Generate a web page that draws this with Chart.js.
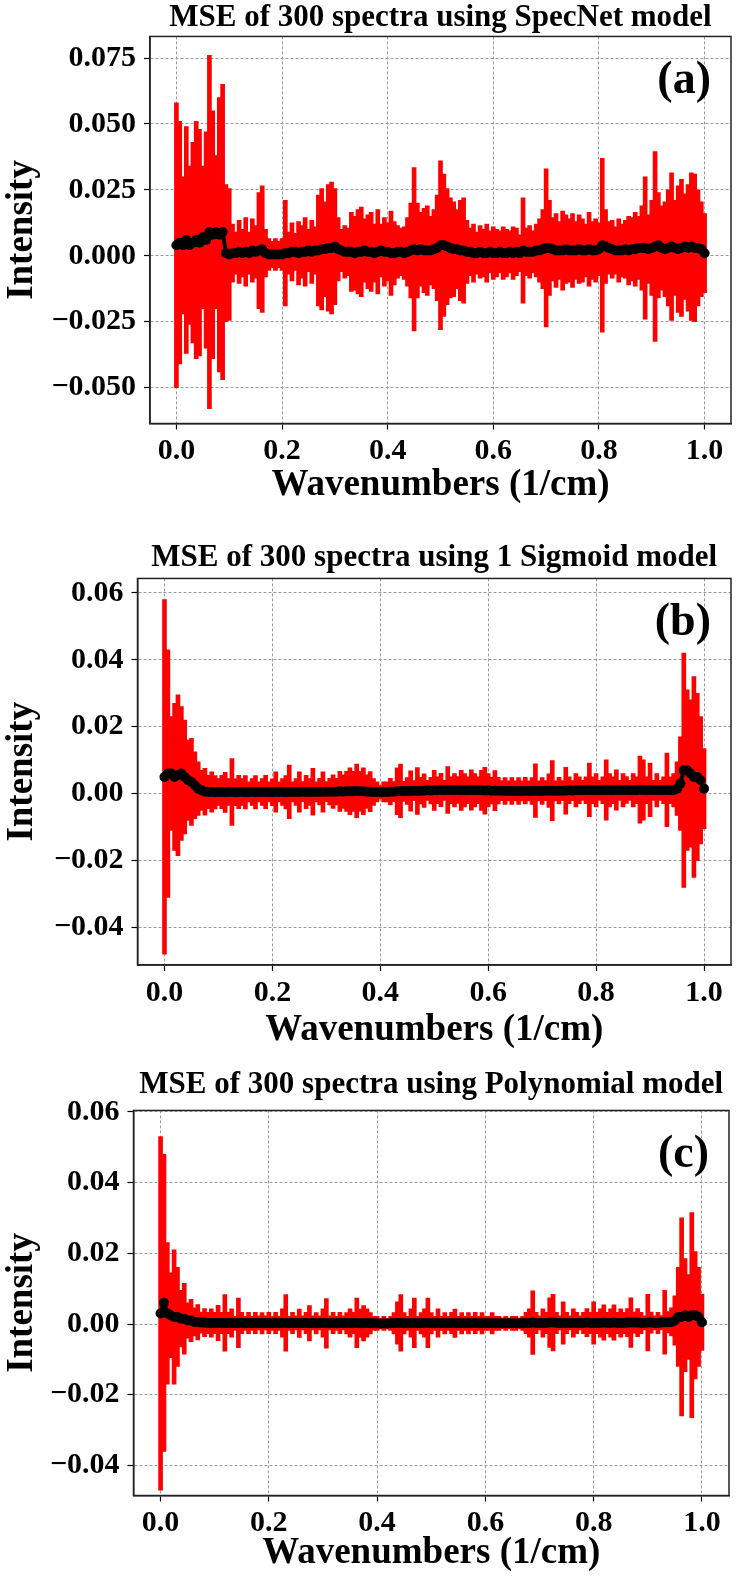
<!DOCTYPE html>
<html>
<head>
<meta charset="utf-8">
<script src="https://cdn.jsdelivr.net/npm/chart.js@4.4.1/dist/chart.umd.min.js"></script>
<style>
  html, body { margin: 0; padding: 0; background: #fff; }
  body { width: 738px; height: 1586px; position: relative; overflow: hidden; }
  canvas { position: absolute; left: 0; }
</style>
</head>
<body>
<canvas id="panelA" width="738" height="520" style="top:0px"></canvas>
<canvas id="panelB" width="738" height="550" style="top:520px"></canvas>
<canvas id="panelC" width="738" height="536" style="top:1050px"></canvas>
<script>
const FONT = "'Liberation Serif', 'Times New Roman', serif";

// normalised wavenumber grid shared by the three panels
const wavenumbers = Array.from({ length: 161 }, (_, i) => i / 160);

const xTickValues = [0, 0.2, 0.4, 0.6, 0.8, 1.0];
const specnetTicks = [-0.05, -0.025, 0, 0.025, 0.05, 0.075];
const sigmoidTicks = [-0.04, -0.02, 0, 0.02, 0.04, 0.06];
const polyTicks = [-0.04, -0.02, 0, 0.02, 0.04, 0.06];

const titles = [
  'MSE of 300 spectra using SpecNet model',
  'MSE of 300 spectra using 1 Sigmoid model',
  'MSE of 300 spectra using Polynomial model'
];
const tags = ['(a)', '(b)', '(c)'];

// mean MSE and its std (error bar half length), units of 1e-3
const specnetMean = [
  4, 5, 4, 6, 4, 5, 6, 5, 7, 6,
  9, 8, 9, 8, 9, 1, 0.5, 1, 1, 1.5,
  1, 1.5, 1, 2, 1.5, 2, 2.5, 1, 0.5, 0.5,
  0.5, 0.5, 0.5, 1, 1, 1.5, 1.5, 1, 1.5, 1.5,
  2, 1.5, 2, 2, 2.5, 2.5, 3, 3, 3.5, 2.5,
  2, 1.5, 1.5, 1.5, 1, 1.5, 1.5, 2, 1.5, 1.5,
  1, 1.5, 2, 1.5, 1.5, 1, 1, 1.5, 1.5, 1,
  1.5, 2, 2.5, 2, 2.5, 2, 2, 2, 2.5, 3,
  4, 4, 3.5, 3, 2.5, 2.5, 2, 2, 1.5, 1.5,
  1, 1, 1.5, 1, 1, 1.5, 1, 1, 1.5, 1,
  1, 1.5, 1, 1.5, 1, 2, 1.5, 1.5, 1.5, 2,
  2, 2.5, 3, 3, 2.5, 2, 2, 2, 2.5, 2,
  2, 2, 2.5, 2, 2, 2.5, 2, 2, 2.5, 4,
  3.5, 3, 2.5, 2, 2, 2, 2.5, 2, 2.5, 2.5,
  3, 3, 3, 2.5, 3, 3.5, 4, 3, 2.5, 3,
  3.5, 3, 2.5, 3, 3.5, 3, 3.5, 3, 3, 2.5,
  1
];
const specnetStd = [
  54, 46, 26, 43, 30, 38, 45, 43, 27, 41,
  67, 47, 29, 52, 56, 26, 25, 11, 8, 12,
  9, 13, 8, 12, 10, 22, 24, 9, 6, 5,
  6, 5, 6, 20, 8, 11, 7, 12, 10, 13,
  8, 12, 9, 21, 23, 18, 24, 25, 22, 12,
  8, 10, 9, 15, 14, 16, 17, 12, 14, 15,
  11, 16, 10, 13, 11, 16, 12, 10, 9, 10,
  13, 18, 31, 18, 14, 16, 17, 13, 15, 20,
  32, 27, 22, 19, 18, 15, 19, 20, 12, 9,
  11, 8, 10, 9, 11, 8, 10, 9, 8, 10,
  9, 8, 10, 9, 7, 20, 9, 10, 8, 10,
  12, 15, 30, 18, 12, 14, 11, 15, 13, 12,
  14, 11, 13, 12, 10, 14, 11, 12, 10, 33,
  14, 10, 11, 9, 12, 10, 11, 13, 12, 14,
  12, 16, 27, 13, 18, 36, 20, 16, 18, 22,
  28, 18, 24, 26, 20, 24, 28, 28, 22, 18,
  15
];

const sigmoidMean = [
  5, 6, 6, 5, 5.5, 6, 5, 4, 3.5, 2.5,
  1.5, 1, 0.6, 0.5, 0.5, 0.4, 0.5, 0.5, 0.4, 0.5,
  0.5, 0.4, 0.5, 0.5, 0.4, 0.5, 0.5, 0.4, 0.5, 0.5,
  0.5, 0.5, 0.4, 0.5, 0.5, 0.5, 0.4, 0.5, 0.5, 0.5,
  0.5, 0.6, 0.5, 0.5, 0.6, 0.5, 0.6, 0.5, 0.6, 0.6,
  0.6, 0.6, 0.7, 0.6, 0.7, 0.7, 0.7, 0.8, 0.7, 0.7,
  0.6, 0.6, 0.5, 0.5, 0.4, 0.5, 0.5, 0.6, 0.6, 0.7,
  0.8, 0.7, 0.8, 0.8, 0.9, 0.8, 0.9, 0.9, 1, 0.9,
  1, 1, 1.1, 1, 1.1, 1, 1, 1.1, 1, 1,
  1, 1.1, 1, 1, 1, 0.9, 1, 0.9, 0.9, 0.9,
  0.9, 0.8, 0.8, 0.8, 0.8, 0.8, 0.8, 0.9, 0.8, 0.8,
  0.9, 0.8, 0.8, 0.9, 0.9, 0.9, 0.8, 0.9, 0.9, 0.9,
  1, 0.9, 1, 1, 1, 1, 1.1, 1, 1, 1,
  1, 1.1, 1, 1, 1.1, 1, 1, 1.1, 1, 1,
  1, 1.2, 1.1, 1, 1.1, 1, 1, 1, 1, 1.1,
  1, 1, 1.5, 3, 7, 7, 6, 5, 5, 4,
  1.5
];
const sigmoidStd = [
  53, 37, 17, 22, 24, 20, 17, 12, 13, 10,
  8, 6, 7, 5, 6, 5, 4, 5, 6, 4,
  10, 4, 5, 4, 5, 3, 4, 5, 3, 4,
  5, 3, 4, 6, 3, 4, 5, 8, 3, 4,
  6, 3, 5, 4, 7, 3, 4, 6, 3, 4,
  5, 4, 6, 5, 6, 7, 6, 8, 6, 7,
  5, 6, 4, 3, 2, 3, 3, 4, 3, 7,
  8, 3, 4, 6, 3, 7, 4, 5, 3, 4,
  6, 4, 5, 3, 7, 4, 5, 4, 6, 5,
  4, 6, 5, 4, 6, 7, 5, 4, 6, 4,
  3, 4, 3, 4, 3, 4, 3, 4, 3, 4,
  8, 3, 4, 3, 5, 9, 3, 4, 3, 7,
  4, 3, 5, 4, 3, 4, 8, 4, 5, 3,
  4, 9, 5, 4, 6, 3, 5, 4, 3, 5,
  4, 10, 9, 4, 8, 3, 5, 3, 4, 11,
  4, 5, 8, 14, 35, 24, 22, 30, 25, 19,
  12
];

const polyMean = [
  3, 6, 3, 2.5, 2, 2, 1.5, 1.5, 1, 1,
  0.6, 0.5, 0.4, 0.4, 0.3, 0.3, 0.3, 0.3, 0.3, 0.3,
  0.3, 0.3, 0.2, 0.3, 0.3, 0.2, 0.3, 0.2, 0.3, 0.3,
  0.2, 0.3, 0.3, 0.2, 0.3, 0.2, 0.3, 0.3, 0.2, 0.3,
  0.3, 0.2, 0.3, 0.3, 0.2, 0.3, 0.2, 0.3, 0.3, 0.2,
  0.3, 0.3, 0.2, 0.3, 0.3, 0.2, 0.3, 0.3, 0.3, 0.2,
  0.2, 0.3, 0.2, 0.2, 0.2, 0.1, 0.2, 0.1, 0.2, 0.2,
  0.3, 0.3, 0.2, 0.2, 0.3, 0.3, 0.2, 0.2, 0.3, 0.3,
  0.2, 0.2, 0.3, 0.2, 0.2, 0.2, 0.3, 0.2, 0.2, 0.2,
  0.2, 0.2, 0.2, 0.3, 0.2, 0.2, 0.2, 0.2, 0.2, 0.2,
  0.2, 0.2, 0.2, 0.2, 0.2, 0.2, 0.2, 0.2, 0.3, 0.3,
  0.4, 0.3, 0.3, 0.3, 0.3, 0.4, 0.4, 0.3, 0.3, 0.3,
  0.3, 0.3, 0.3, 0.3, 0.3, 0.3, 0.4, 0.3, 0.3, 0.3,
  0.3, 0.4, 0.3, 0.3, 0.4, 0.3, 0.3, 0.3, 0.4, 0.4,
  0.4, 0.4, 0.3, 0.3, 0.4, 0.4, 0.3, 0.3, 0.4, 0.5,
  0.5, 0.6, 1, 2, 2, 2.5, 2, 2.5, 2.5, 2,
  0.5
];
const polyStd = [
  50, 42, 20, 12, 19, 14, 8, 10, 5, 6,
  4, 5, 3, 4, 3, 4, 3, 5, 3, 8,
  3, 4, 2, 7, 3, 2, 3, 2, 3, 2,
  3, 2, 3, 2, 3, 2, 4, 8, 2, 3,
  2, 4, 2, 3, 5, 2, 3, 2, 4, 7,
  2, 3, 2, 3, 2, 3, 4, 3, 7, 4,
  5, 4, 3, 2, 2, 1.5, 2, 1.5, 2, 3,
  6, 8, 3, 2, 4, 7, 2, 3, 4, 7,
  3, 2, 4, 2, 3, 2, 3, 4, 2, 3,
  2, 3, 2, 3, 2, 3, 2, 2, 3, 2,
  2, 1.5, 2, 1.5, 2, 2, 1.5, 2, 3, 4,
  9, 3, 2, 4, 3, 7, 8, 3, 2, 6,
  3, 2, 4, 3, 2, 3, 4, 3, 6, 3,
  4, 5, 3, 4, 5, 3, 4, 3, 4, 7,
  3, 4, 3, 2, 8, 3, 2, 3, 2, 9,
  3, 4, 7, 14, 28, 16, 12, 29, 18, 14,
  8
];

Chart.defaults.font.family = FONT;
Chart.defaults.color = '#000';

// frame on all four sides plus the panel letter
const framePlugin = {
  id: 'frame',
  afterDraw(chart, args, opts) {
    const { ctx, chartArea: a } = chart;
    ctx.save();
    ctx.strokeStyle = '#222';
    ctx.lineWidth = 1.5;
    ctx.strokeRect(a.left, a.top, a.right - a.left, a.bottom - a.top);
    ctx.font = 'bold 46px ' + FONT;
    ctx.fillStyle = '#000';
    ctx.textAlign = 'right';
    ctx.textBaseline = 'alphabetic';
    ctx.fillText(opts.tag, a.right - 20, a.top + 57);
    ctx.restore();
  }
};

const panels = [
  { id: 'panelA', mean: specnetMean, std: specnetStd, yTicks: specnetTicks, digits: 3,
    yMin: -0.0636, yMax: 0.0832, left: 150, right: 731,
    titlePad: { top: 0, bottom: 0.8 }, xAxisHeight: 96.5, xTitlePad: 12.8 },
  { id: 'panelB', mean: sigmoidMean, std: sigmoidStd, yTicks: sigmoidTicks, digits: 2,
    yMin: -0.0512, yMax: 0.0643, left: 137.5, right: 731,
    titlePad: { top: 20.2, bottom: 2.6 }, xAxisHeight: 105, xTitlePad: 17.8 },
  { id: 'panelC', mean: polyMean, std: polyStd, yTicks: polyTicks, digits: 2,
    yMin: -0.0485, yMax: 0.0604, left: 133.5, right: 729,
    titlePad: { top: 17.2, bottom: 7.6 }, xAxisHeight: 90.5, xTitlePad: 10.8 }
];

const gridOpts = {
  color: '#9a9a9a',
  lineWidth: 1,
  offset: false,
  drawTicks: true,
  tickLength: 6,
  tickColor: '#000',
  tickWidth: 1.2
};
const borderOpts = { display: true, color: '#222', width: 1.5, dash: [3, 2] };

panels.forEach((p, k) => {
  const bars = wavenumbers.map((x, i) => ({
    x: x,
    y: [(p.mean[i] - p.std[i]) / 1000, (p.mean[i] + p.std[i]) / 1000]
  }));
  const dots = wavenumbers.map((x, i) => ({ x: x, y: p.mean[i] / 1000 }));

  new Chart(document.getElementById(p.id), {
    type: 'bar',
    data: {
      datasets: [
        {
          type: 'line',
          data: dots,
          borderColor: '#000',
          borderWidth: 4,
          pointRadius: 5,
          pointBackgroundColor: '#000',
          pointBorderWidth: 0,
          order: 0
        },
        {
          type: 'bar',
          data: bars,
          backgroundColor: '#ff0000',
          borderWidth: 0,
          barThickness: 4,
          order: 1
        }
      ]
    },
    options: {
      responsive: false,
      animation: false,
      devicePixelRatio: 1,
      layout: { padding: { left: 0, right: 738 - p.right, top: 0, bottom: 0 } },
      plugins: {
        legend: { display: false },
        tooltip: { enabled: false },
        title: {
          display: true,
          fullSize: false,
          text: titles[k],
          color: '#000',
          font: { size: 31, weight: 'bold', lineHeight: 1.15 },
          padding: p.titlePad
        },
        frame: { tag: tags[k] }
      },
      scales: {
        x: {
          type: 'linear',
          min: -0.05,
          max: 1.05,
          offset: false,
          afterFit: s => { s.height = p.xAxisHeight; },
          afterBuildTicks: s => { s.ticks = xTickValues.map(v => ({ value: v })); },
          ticks: {
            autoSkip: false,
            maxRotation: 0,
            padding: 4,
            font: { size: 30, weight: 'bold', lineHeight: 1.2 },
            callback: v => v.toFixed(1)
          },
          grid: gridOpts,
          border: borderOpts,
          title: {
            display: true,
            text: 'Wavenumbers (1/cm)',
            font: { size: 37, weight: 'bold', lineHeight: 1.2 },
            padding: { top: 0, bottom: p.xTitlePad }
          }
        },
        y: {
          type: 'linear',
          min: p.yMin,
          max: p.yMax,
          afterFit: s => { s.width = p.left; },
          afterBuildTicks: s => { s.ticks = p.yTicks.map(v => ({ value: v })); },
          ticks: {
            padding: 8,
            font: { size: 30, weight: 'bold', lineHeight: 1.2 },
            callback: v => (v < 0 ? '\u2212' : '') + Math.abs(v).toFixed(p.digits)
          },
          grid: gridOpts,
          border: borderOpts,
          title: {
            display: true,
            text: 'Intensity',
            font: { size: 37, weight: 'bold', lineHeight: 1.2 },
            padding: { top: 0, bottom: 0 }
          }
        }
      }
    },
    plugins: [framePlugin]
  });
});
</script>
</body>
</html>
